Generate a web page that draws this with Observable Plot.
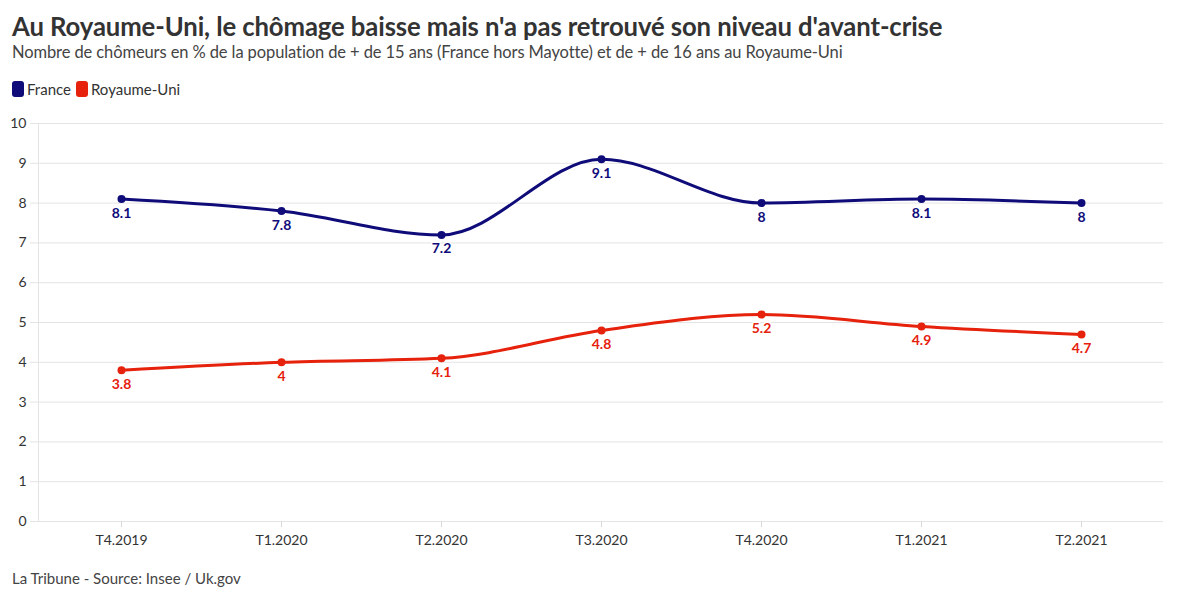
<!DOCTYPE html>
<html><head><meta charset="utf-8">
<script src="https://cdn.jsdelivr.net/npm/d3@7"></script>
<script src="https://cdn.jsdelivr.net/npm/@observablehq/plot@0.6"></script>
<style>
body{margin:0;background:#fff;font-family:Lato,"Noto Sans",sans-serif;width:1200px;height:600px;overflow:hidden;position:relative}
#title{position:absolute;left:12px;top:11px;font-size:25.7px;font-weight:700;color:#333;white-space:nowrap;letter-spacing:-0.1px}
#subtitle{position:absolute;left:12px;top:42px;font-size:16.5px;color:#444;white-space:nowrap;letter-spacing:-0.1px}
#legend{position:absolute;left:12px;top:80px;font-size:15px;color:#333;display:flex;align-items:center}
#legend span.sw{display:inline-block;width:12px;height:16px;border-radius:3px;margin-right:3px}
#legend span.it{display:flex;align-items:center;margin-right:5px}
#chart{position:absolute;left:0;top:105px}
#caption{position:absolute;left:12px;top:569px;font-size:15px;color:#444}
</style></head>
<body>
<div id="title">Au Royaume-Uni, le chômage baisse mais n'a pas retrouvé son niveau d'avant-crise</div>
<div id="subtitle">Nombre de chômeurs en % de la population de + de 15 ans (France hors Mayotte) et de + de 16 ans au Royaume-Uni</div>
<div id="legend"></div>
<div id="chart"></div>
<div id="caption">La Tribune - Source: Insee / Uk.gov</div>
<script>
const quarters = ["T4.2019","T1.2020","T2.2020","T3.2020","T4.2020","T1.2021","T2.2021"];
const france = [8.1, 7.8, 7.2, 9.1, 8, 8.1, 8];
const royaumeUni = [3.8, 4, 4.1, 4.8, 5.2, 4.9, 4.7];
const seriesNames = ["France", "Royaume-Uni"];
const seriesColors = ["#0f0c7a", "#e6210c"];
const yTicks = [0,1,2,3,4,5,6,7,8,9,10];

const data = [];
quarters.forEach((q,i)=>{
  data.push({q, v: france[i], s: "France"});
  data.push({q, v: royaumeUni[i], s: "Royaume-Uni"});
});

const leg = document.getElementById("legend");
seriesNames.forEach((n,i)=>{
  const it = document.createElement("span"); it.className="it";
  it.innerHTML = `<span class="sw" style="background:${seriesColors[i]}"></span>${n}`;
  leg.appendChild(it);
});

const fmt = v => String(v);
const chart = Plot.plot({
  width: 1200, height: 450,
  marginLeft: 38, marginRight: 37, marginTop: 18, marginBottom: 34,
  style: {fontFamily: "Lato, 'Noto Sans', sans-serif", fontSize: "14px", color: "#333", background: "#fff"},
  x: {type: "point", domain: quarters, padding: 0.5, label: null},
  y: {domain: [0,10], ticks: yTicks, label: null},
  color: {domain: seriesNames, range: seriesColors},
  marks: [
    Plot.gridY(yTicks, {stroke: "#e4e4e4", strokeOpacity: 1, strokeWidth: 1}),
    Plot.axisY({ticks: yTicks, tickSize: 8, stroke: "#e4e4e4", fill: "#333", fontSize: 14, tickPadding: 4}),
    Plot.axisX({tickSize: 6, stroke: "#d8d8d8", fill: "#333", fontSize: 14, tickPadding: 8}),
    Plot.line(data, {x: "q", y: "v", z: "s", stroke: "s", strokeWidth: 3, curve: "monotone-x"}),
    Plot.dot(data, {x: "q", y: "v", fill: "s", r: 4}),
    Plot.text(data, {x: "q", y: "v", text: d => fmt(d.v), fill: "s", dy: 14, fontWeight: 700, fontSize: 14, stroke: "white", strokeWidth: 3, paintOrder: "stroke"})
  ]
});
document.getElementById("chart").appendChild(chart);
d3.select(chart).append("line").attr("x1",38.5).attr("x2",38.5).attr("y1",18).attr("y2",416).attr("stroke","#e4e4e4");
</script>
</body></html>
